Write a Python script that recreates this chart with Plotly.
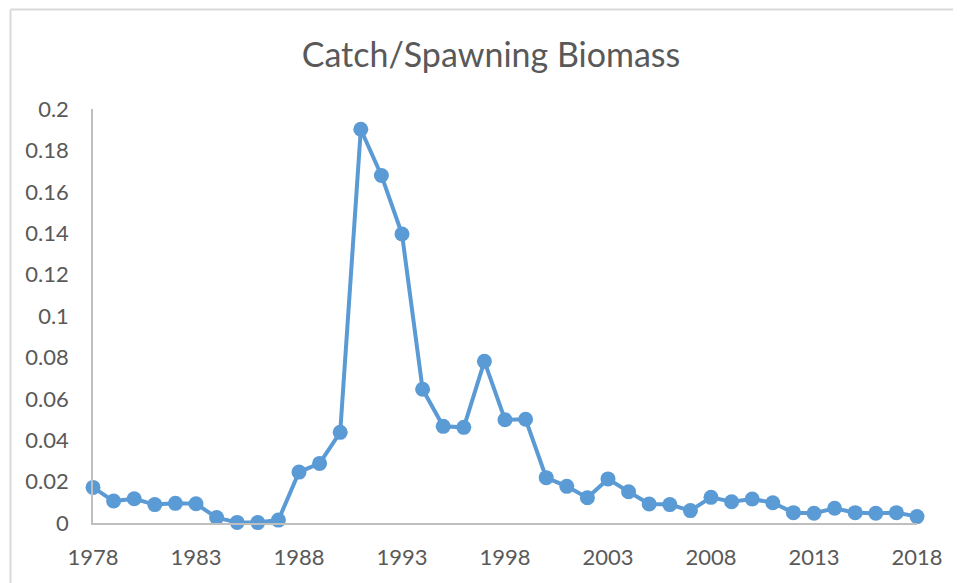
import plotly.graph_objects as go

years = list(range(1978, 2019))
catch_ratio = [0.0172, 0.0106, 0.0117, 0.0089, 0.0095, 0.0093, 0.0026, 0.0003, 0.0002, 0.0014,
               0.0246, 0.0288, 0.0438, 0.1902, 0.1679, 0.1396, 0.0646, 0.0467, 0.0462, 0.0781,
               0.0499, 0.0501, 0.0219, 0.0177, 0.0122, 0.0213, 0.0151, 0.0092, 0.0089, 0.0060,
               0.0124, 0.0103, 0.0116, 0.0098, 0.0050, 0.0047, 0.0071, 0.0050, 0.0047, 0.0050,
               0.0031]
y_ticks = [0, 0.02, 0.04, 0.06, 0.08, 0.1, 0.12, 0.14, 0.16, 0.18, 0.2]
y_labels = ["0", "0.02", "0.04", "0.06", "0.08", "0.1", "0.12", "0.14", "0.16", "0.18", "0.2"]
x_ticks = [1978, 1983, 1988, 1993, 1998, 2003, 2008, 2013, 2018]

OFF = 8  # default page body margin
W, H = 961 - OFF, 583 - OFF
L, T = 93 - OFF, 109 - OFF
R, B = 44, 60
pw, ph = W - L - R, H - T - B

def px(x):
    # page pixel -> paper coordinate
    return (x - OFF - L) / pw

def py(y):
    return (H - B - (y - OFF)) / ph

font_fam = "Lato, 'Open Sans', sans-serif"
grey = "#595959"

fig = go.Figure()
fig.add_trace(go.Scatter(
    x=years, y=catch_ratio, mode="lines+markers",
    line=dict(color="#5b9bd5", width=4),
    marker=dict(color="#5b9bd5", size=15),
    cliponaxis=False, showlegend=False,
))

fig.update_layout(
    width=W, height=H,
    margin=dict(l=L, r=R, t=T, b=B),
    paper_bgcolor="white", plot_bgcolor="white",
    title=dict(text="Catch/Spawning Biomass", x=px(491), xref="paper", xanchor="center",
               y=1 - (55 - OFF) / H, yref="container", yanchor="middle",
               font=dict(family=font_fam, size=34, color=grey)),
    xaxis=dict(range=[1978, 2018], tickmode="array", tickvals=x_ticks,
               showgrid=False, zeroline=False, showline=True, linecolor="#bfbfbf", linewidth=1.5,
               ticks="", ticklabelstandoff=14,
               tickfont=dict(family=font_fam, size=22, color=grey)),
    yaxis=dict(range=[0, 0.2], tickmode="array", tickvals=y_ticks, ticktext=y_labels,
               showgrid=False, zeroline=False, showline=True, linecolor="#bfbfbf", linewidth=1.5,
               ticks="", ticklabelstandoff=18,
               tickfont=dict(family=font_fam, size=22, color=grey)),
    shapes=[
        dict(type="line", xref="paper", yref="paper", x0=px(10.5), x1=px(961 + 5),
             y0=py(9.5), y1=py(9.5), line=dict(color="#d9d9d9", width=2)),
        dict(type="line", xref="paper", yref="paper", x0=px(10.5), x1=px(10.5),
             y0=py(9.5), y1=py(583 + 5), line=dict(color="#d9d9d9", width=2)),
    ],
)

fig.write_html("out.html")
